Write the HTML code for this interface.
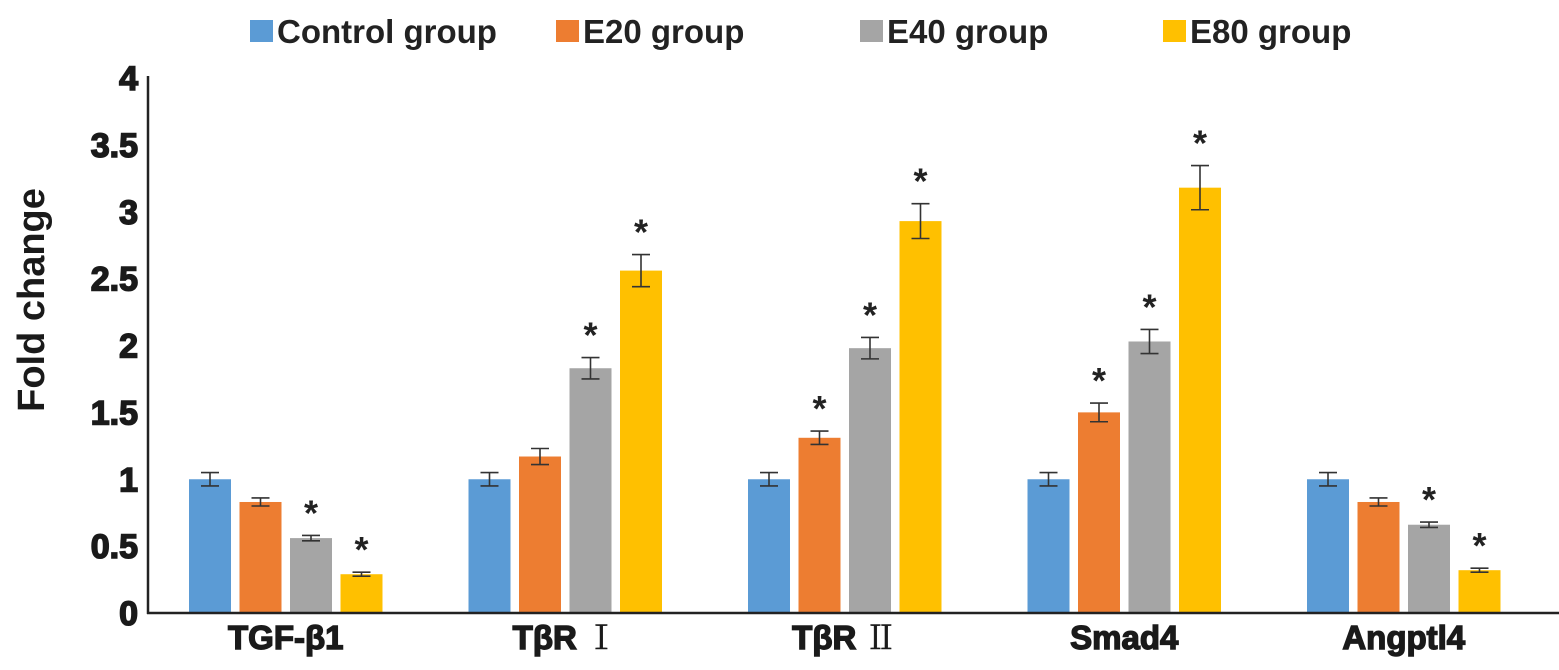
<!DOCTYPE html>
<html><head><meta charset="utf-8"><style>
html,body{margin:0;padding:0;background:#fff;}
svg{display:block;font-family:"Liberation Sans",Arial,sans-serif;}
</style></head><body>
<svg id="chart" width="1559" height="670" xmlns="http://www.w3.org/2000/svg">
<g id="legend"></g>
<text x="44" y="300" transform="rotate(-90 44 300)" text-anchor="middle" font-size="38" font-weight="bold" fill="#1a1a1a">Fold change</text>
<g id="yticks"></g>
<g id="bars"></g>
<line x1="148" y1="76" x2="148" y2="614" stroke="#222" stroke-width="2.5"/>
<line x1="147" y1="613" x2="1559" y2="613" stroke="#222" stroke-width="2.5"/>
<g id="xlabels"></g>
</svg>
<script>
const categories = ["TGF-β1","TβR|Ⅰ","TβR|Ⅱ","Smad4","Angptl4"];
const seriesNames = ["Control group","E20 group","E40 group","E80 group"];
const control = [1,1,1,1,1];
const e20 = [0.83,1.17,1.31,1.5,0.83];
const e40 = [0.56,1.83,1.98,2.03,0.66];
const e80 = [0.29,2.56,2.93,3.18,0.32];
const controlErr = [0.05,0.05,0.05,0.05,0.05];
const e20Err = [0.03,0.06,0.05,0.07,0.03];
const e40Err = [0.02,0.08,0.08,0.09,0.02];
const e80Err = [0.015,0.12,0.13,0.165,0.015];
const e20Sig = [false,false,true,true,false];
const e40Sig = [true,true,true,true,true];
const e80Sig = [true,true,true,true,true];
const yTicks = [0,0.5,1,1.5,2,2.5,3,3.5,4];
const yTickLabels = ["0","0.5","1","1.5","2","2.5","3","3.5","4"];

const colors = ["#5B9BD5","#ED7D31","#A5A5A5","#FFC000"];
const NS="http://www.w3.org/2000/svg";
const y0=613, pxPerUnit=133.75;
const yScale = v => y0 - v*pxPerUnit;
const groupStart = i => 189 + i*279.5;
const barW = 42, barStep = 50.5;
function el(tag, attrs, parent){const e=document.createElementNS(NS,tag);for(const k in attrs)e.setAttribute(k,attrs[k]);parent.appendChild(e);return e;}

const yt=document.getElementById('yticks');
yTicks.forEach((v,i)=>{
  const t=el('text',{x:138,y:yScale(v)+12,'text-anchor':'end','font-size':'34','font-weight':'bold',fill:'#1a1a1a',stroke:'#1a1a1a','stroke-width':'1.6'},yt);
  
  
  t.textContent=yTickLabels[i];
});

const series=[control,e20,e40,e80];
const errs=[controlErr,e20Err,e40Err,e80Err];
const sigs=[null,e20Sig,e40Sig,e80Sig];
const bg=document.getElementById('bars');
categories.forEach((c,ci)=>{
  series.forEach((s,si)=>{
    const x=groupStart(ci)+si*barStep, v=s[ci];
    const r=el('rect',{x:x,y:yScale(v),width:barW,height:y0-yScale(v),fill:colors[si]},bg);
    
    
    const cx=x+barW/2, e=errs[si][ci];
    const g=el('g',{stroke:'#333','stroke-width':'1.6'},bg);
    
    
    el('line',{x1:cx,x2:cx,y1:yScale(v+e),y2:yScale(v-e)},g);
    el('line',{x1:cx-9,x2:cx+9,y1:yScale(v+e),y2:yScale(v+e)},g);
    el('line',{x1:cx-9,x2:cx+9,y1:yScale(v-e),y2:yScale(v-e)},g);
    if(sigs[si] && sigs[si][ci]){
      const t=el('text',{x:cx,y:yScale(v+e)+4-14,'text-anchor':'middle','font-size':'36','font-weight':'bold',fill:'#222'},bg);
      
      
      t.textContent='*';
    }
  });
});

const xl=document.getElementById('xlabels');
categories.forEach((c,ci)=>{
  const parts=c.split('|');
  const t=el('text',{x:groupStart(ci)+(3*barStep+barW)/2,y:649,'text-anchor':'middle','font-size':'33','font-weight':'bold',fill:'#1a1a1a',stroke:'#1a1a1a','stroke-width':'1.4'},xl);
  
  
  t.textContent=parts[0];
  if(parts[1]){
    const s=el('tspan',{'font-family':'"Liberation Serif","Noto Serif CJK SC",serif','font-weight':'normal','stroke-width':'0.4',dx:'8'},t);
    s.textContent=parts[1];
  }
});

const lg=document.getElementById('legend');
const legX=[250,556,860,1163];
seriesNames.forEach((n,i)=>{
  const g=el('g',{},lg);
  
  
  el('rect',{x:legX[i],y:20,width:23,height:22,fill:colors[i]},g);
  const t=el('text',{x:legX[i]+27,y:43,'font-size':'33','font-weight':'bold',fill:'#222'},g);
  t.textContent=n;
});
</script>
</body></html>
